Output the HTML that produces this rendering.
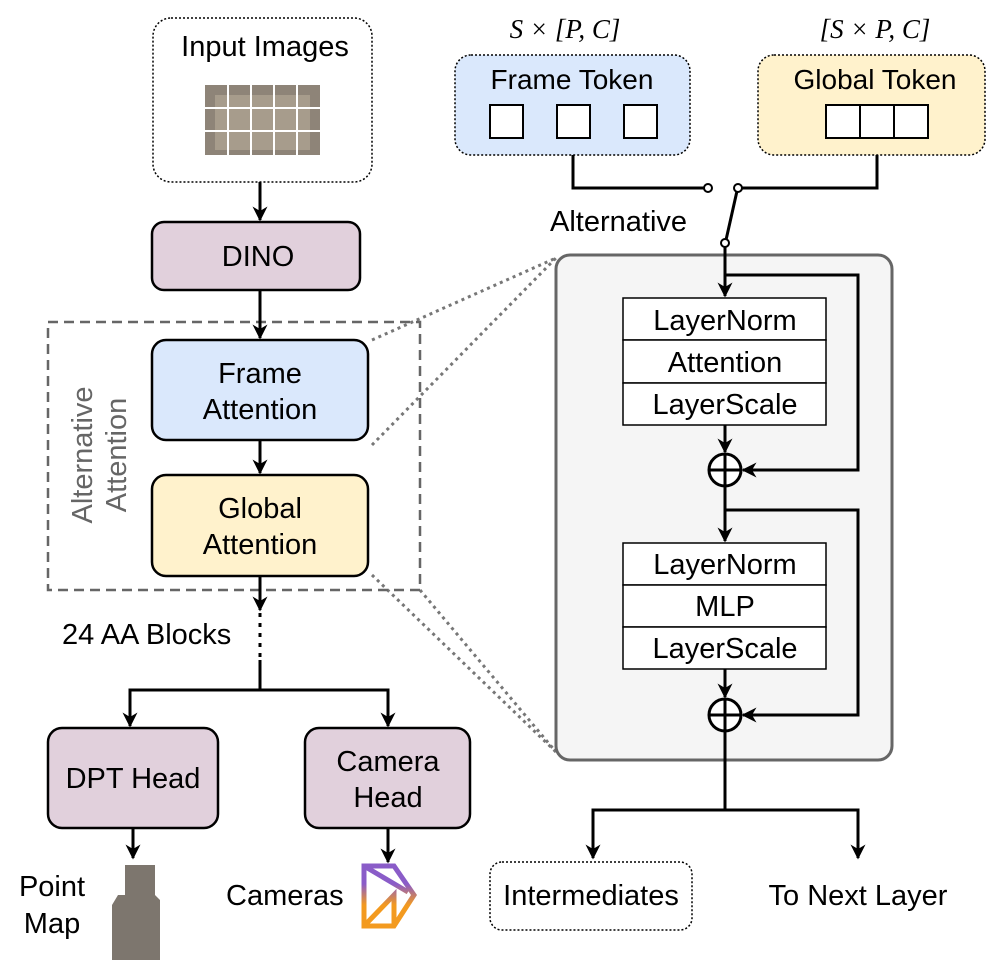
<!DOCTYPE html>
<html><head><style>
body{margin:0;background:#fff}
svg text{font-family:"Liberation Sans",sans-serif;fill:#000}
</style></head><body>
<svg width="996" height="966" viewBox="0 0 996 966" xmlns="http://www.w3.org/2000/svg">
<defs>
<marker id="a" viewBox="0 0 10 10" refX="9" refY="5" markerWidth="5" markerHeight="5" orient="auto"><path d="M0,0 L10,5 L0,10 L3,5 z" fill="#000"/></marker>
<linearGradient id="cg" x1="0" y1="0" x2="0" y2="1"><stop offset="0.3" stop-color="#8a5cc8"/><stop offset="0.65" stop-color="#f39a1f"/></linearGradient>
</defs>
<g stroke="#777" stroke-width="3" stroke-dasharray="3,4" fill="none">
<line x1="372" y1="340" x2="556" y2="258"/>
<line x1="372" y1="445" x2="556" y2="258"/>
<line x1="372" y1="575" x2="556" y2="752"/>
<line x1="420" y1="590" x2="556" y2="752"/>
</g>
<rect x="153" y="18" width="219" height="164" rx="18" fill="#fff" stroke="#000" stroke-width="1.5" stroke-dasharray="2,2"/>
<text x="265" y="56" font-size="29" text-anchor="middle">Input Images</text>
<rect x="205" y="85" width="115" height="70" fill="#8e8478"/>
<rect x="215" y="95" width="95" height="55" fill="#a79c8c"/>
<g stroke="#fff" stroke-width="2"><line x1="228" y1="85" x2="228" y2="155"/><line x1="251" y1="85" x2="251" y2="155"/><line x1="274" y1="85" x2="274" y2="155"/><line x1="297" y1="85" x2="297" y2="155"/><line x1="205" y1="108" x2="320" y2="108"/><line x1="205" y1="131" x2="320" y2="131"/></g>
<rect x="152" y="222" width="208" height="68" rx="12" fill="#e1d0dc" stroke="#000" stroke-width="2.5"/>
<text x="258" y="266" font-size="29" text-anchor="middle">DINO</text>
<rect x="48" y="322" width="372" height="268" fill="none" stroke="#666" stroke-width="2.5" stroke-dasharray="10,6"/>
<text transform="translate(92,455) rotate(-90)" font-size="29" text-anchor="middle" style="fill:#666">Alternative</text>
<text transform="translate(126,455) rotate(-90)" font-size="29" text-anchor="middle" style="fill:#666">Attention</text>
<rect x="152" y="340" width="216" height="100" rx="14" fill="#dae8fc" stroke="#000" stroke-width="2.5"/>
<text x="260" y="383" font-size="29" text-anchor="middle">Frame</text>
<text x="260" y="419" font-size="29" text-anchor="middle">Attention</text>
<rect x="152" y="475" width="216" height="101" rx="14" fill="#fff2cc" stroke="#000" stroke-width="2.5"/>
<text x="260" y="518" font-size="29" text-anchor="middle">Global</text>
<text x="260" y="554" font-size="29" text-anchor="middle">Attention</text>
<g stroke="#000" stroke-width="3" fill="none">
<line x1="260" y1="182" x2="260" y2="220" marker-end="url(#a)"/>
<line x1="260" y1="290" x2="260" y2="338" marker-end="url(#a)"/>
<line x1="260" y1="440" x2="260" y2="473" marker-end="url(#a)"/>
<line x1="260" y1="576" x2="260" y2="610" marker-end="url(#a)"/>
<line x1="260" y1="613" x2="260" y2="660" stroke-dasharray="4,6"/>
<line x1="260" y1="660" x2="260" y2="690"/>
<polyline points="130,726 130,690 388,690 388,726" marker-end="url(#a)"/>
<line x1="130" y1="692" x2="130" y2="726" marker-end="url(#a)"/>
<line x1="133" y1="828" x2="133" y2="858" marker-end="url(#a)"/>
<line x1="388" y1="828" x2="388" y2="862" marker-end="url(#a)"/>
</g>
<text x="62" y="644" font-size="29">24 AA Blocks</text>
<rect x="48" y="728" width="170" height="100" rx="14" fill="#e1d0dc" stroke="#000" stroke-width="2.5"/>
<text x="133" y="788" font-size="29" text-anchor="middle">DPT Head</text>
<rect x="305" y="728" width="165" height="100" rx="14" fill="#e1d0dc" stroke="#000" stroke-width="2.5"/>
<text x="388" y="771" font-size="29" text-anchor="middle">Camera</text>
<text x="388" y="807" font-size="29" text-anchor="middle">Head</text>
<text x="52" y="896" font-size="29" text-anchor="middle">Point</text>
<text x="52" y="933" font-size="29" text-anchor="middle">Map</text>
<path d="M125,865 L155,865 L155,895 L160,900 L160,960 L112,960 L112,905 L118,895 L125,895 z" fill="#7d766e"/>
<text x="226" y="905" font-size="29">Cameras</text>
<path d="M364,866 L394,866 L414,895 L394,926 L364,926 z M364,866 L408,892 M364,926 L394,895 L394,926" fill="none" stroke="url(#cg)" stroke-width="5"/>
<text x="565" y="38" font-size="27" text-anchor="middle" style="font-family:'Liberation Serif',serif;font-style:italic">S × [P, C]</text>
<text x="875" y="38" font-size="27" text-anchor="middle" style="font-family:'Liberation Serif',serif;font-style:italic">[S × P, C]</text>
<rect x="455" y="55" width="235" height="100" rx="16" fill="#dae8fc" stroke="#000" stroke-width="1.5" stroke-dasharray="2,2"/>
<text x="572" y="89" font-size="28" text-anchor="middle">Frame Token</text>
<rect x="758" y="55" width="227" height="100" rx="16" fill="#fff2cc" stroke="#000" stroke-width="1.5" stroke-dasharray="2,2"/>
<text x="875" y="89" font-size="28" text-anchor="middle">Global Token</text>
<g fill="#fff" stroke="#000" stroke-width="2"><rect x="490" y="105" width="33" height="33"/><rect x="557" y="105" width="33" height="33"/><rect x="624" y="105" width="33" height="33"/>
<rect x="826" y="105" width="34" height="33"/><rect x="860" y="105" width="34" height="33"/><rect x="894" y="105" width="34" height="33"/></g>
<g stroke="#000" stroke-width="3" fill="none">
<polyline points="573,155 573,188 704,188"/>
<polyline points="877,155 877,188 741,188"/>
<line x1="737" y1="191" x2="726" y2="240"/>
</g>
<g fill="#fff" stroke="#000" stroke-width="2"><circle cx="708" cy="188" r="4"/><circle cx="738" cy="188" r="4"/><circle cx="725" cy="243" r="4"/></g>
<text x="550" y="231" font-size="29">Alternative</text>
<rect x="556" y="255" width="336" height="505" rx="14" fill="#f5f5f5" stroke="#666" stroke-width="3"/>
<g stroke="#000" stroke-width="3" fill="none">
<line x1="725" y1="247" x2="725" y2="296" marker-end="url(#a)"/>
<polyline points="725,275 858,275 858,470 743,470" marker-end="url(#a)"/>
<line x1="725" y1="425" x2="725" y2="452" marker-end="url(#a)"/>
<line x1="725" y1="486" x2="725" y2="541" marker-end="url(#a)"/>
<polyline points="725,510 858,510 858,715 743,715" marker-end="url(#a)"/>
<line x1="725" y1="669" x2="725" y2="697" marker-end="url(#a)"/>
<line x1="725" y1="731" x2="725" y2="810"/>
<polyline points="593,858 593,810 858,810 858,858"/>
<line x1="593" y1="812" x2="593" y2="858" marker-end="url(#a)"/>
<line x1="858" y1="812" x2="858" y2="858" marker-end="url(#a)"/>
<circle cx="725" cy="470" r="16" fill="#fff"/><line x1="709" y1="470" x2="741" y2="470"/><line x1="725" y1="454" x2="725" y2="486"/>
<circle cx="725" cy="715" r="16" fill="#fff"/><line x1="709" y1="715" x2="741" y2="715"/><line x1="725" y1="699" x2="725" y2="731"/>
</g>
<g fill="#fff" stroke="#000" stroke-width="1.5">
<rect x="623" y="298" width="203" height="42"/><rect x="623" y="340" width="203" height="43"/><rect x="623" y="383" width="203" height="42"/>
<rect x="623" y="543" width="203" height="42"/><rect x="623" y="585" width="203" height="42"/><rect x="623" y="627" width="203" height="42"/>
</g>
<g font-size="29" text-anchor="middle">
<text x="725" y="330">LayerNorm</text><text x="725" y="372">Attention</text><text x="725" y="414">LayerScale</text>
<text x="725" y="574">LayerNorm</text><text x="725" y="616">MLP</text><text x="725" y="658">LayerScale</text>
</g>
<rect x="490" y="862" width="202" height="68" rx="12" fill="#fff" stroke="#000" stroke-width="1.5" stroke-dasharray="2,2"/>
<text x="591" y="905" font-size="29" text-anchor="middle">Intermediates</text>
<text x="858" y="905" font-size="29" text-anchor="middle">To Next Layer</text>
</svg>
</body></html>
